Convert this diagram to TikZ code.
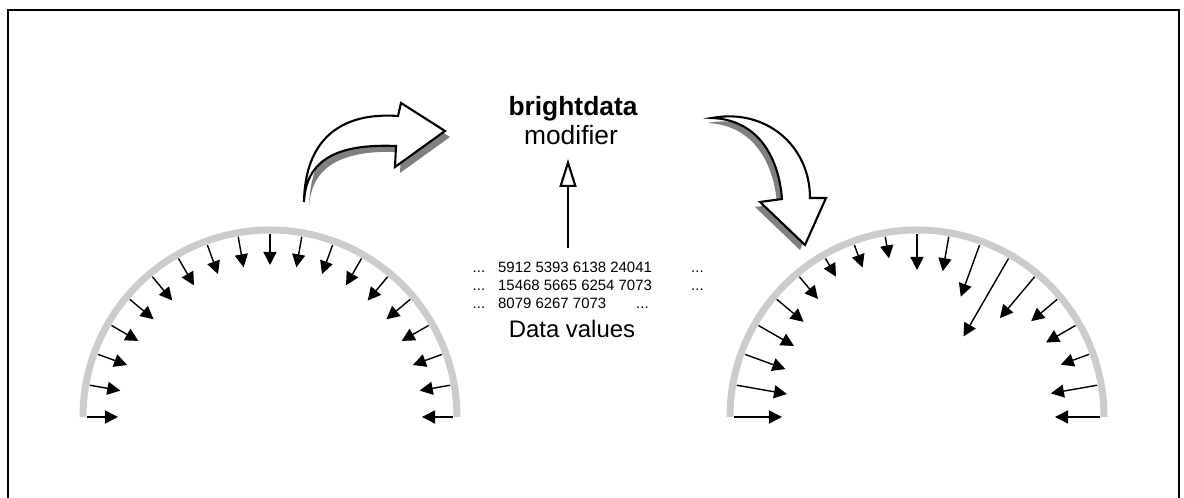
\documentclass[tikz,border=0pt]{standalone}
\usepackage{fontspec}
\setmainfont{Liberation Sans}
\usetikzlibrary{arrows.meta,positioning}

\tikzset{
    rim/.style={line width=0.07cm, black!20},
    spike/.style={line width=0.4pt, -{Triangle[length=0.13cm,width=0.13cm]}},
    bendarrow/.style={fill=white, draw=black, line width=0.6pt},
    bendshadow/.style={fill=black!50},
    upward/.style={line width=0.6pt, -{Triangle[length=0.28cm,width=0.17cm,fill=white]}},
    numrow/.style={anchor=base west, inner sep=0pt, font=\fontsize{4.25}{5}\selectfont},
}

\begin{document}
\begin{tikzpicture}[x=0.01cm,y=0.01cm]
        \useasboundingbox (0,0) rectangle (1184,498);

        % draw the frame
        \draw[line width=0.02cm] (8,-10) rectangle (1179,488);

        % left semicircle, every spike the same
        \begin{scope}[shift={(270,81)}]
                \draw[rim] (180:187) arc[start angle=180,end angle=0,radius=187];
                \foreach \a in {0,10,...,180}
                        \draw[spike] (\a:183) -- (\a:152);
        \end{scope}

        % right semicircle, spikes after the modifier
        \begin{scope}[shift={(917,81)}]
                \draw[rim] (180:187) arc[start angle=180,end angle=0,radius=187];
                \foreach \a/\r in {
                    0/138, 10/136, 20/153, 30/149, 40/149,
                    50/129, 60/93, 70/128, 80/148, 90/147,
                    100/161, 110/159, 120/162, 130/154, 140/148,
                    150/142, 160/140, 170/132, 180/135}
                        \draw[spike] (\a:183) -- (\a:\r);
        \end{scope}

        % curved arrows with their shadows
        \def\leftbend{(304,296) .. controls (305,358) and (340,386) .. (398,382)
            -- (401,395) -- (445,367) -- (395,331) -- (396,352)
            .. controls (345,354) and (306,343) .. (304,296) -- cycle}
        \def\rightbend{(712,380) .. controls (765,390) and (810,353) .. (810,300)
            -- (826,300) -- (805,253) -- (760,296) -- (782,299)
            .. controls (779,338) and (760,378) .. (712,380) -- cycle}
        \fill[bendshadow,shift={(5,-6)}] \leftbend;
        \draw[bendarrow] \leftbend;
        \fill[bendshadow,shift={(-5,-5)}] \rightbend;
        \draw[bendarrow] \rightbend;

        % modifier label
        \node[anchor=base, inner sep=0pt, font={\fontsize{7.5}{9}\selectfont\bfseries}] (brightdata) at (573,382) {brightdata};
        \node[anchor=base, inner sep=0pt, font=\fontsize{7.5}{9}\selectfont] (modifier) at (571,353) {modifier};

        % data values
        \node[numrow] (row1) at (472,225) {...\hspace{0.13cm}\makebox[1.93cm][l]{5912 5393 6138 24041}...};
        \node[numrow] (row2) at (472,207) {...\hspace{0.13cm}\makebox[1.93cm][l]{15468 5665 6254 7073}...};
        \node[numrow] (row3) at (472,189) {...\hspace{0.13cm}8079 6267 7073\hspace{0.3cm}...};
        \node[anchor=base, inner sep=0pt, font=\fontsize{6.8}{8}\selectfont] (datalabel) at (572,160) {Data values};

        \coordinate (foot) at (568,250);
        \coordinate (tip) at (568,339);
        \draw[upward] (foot) -- (tip);
\end{tikzpicture}
\end{document}
